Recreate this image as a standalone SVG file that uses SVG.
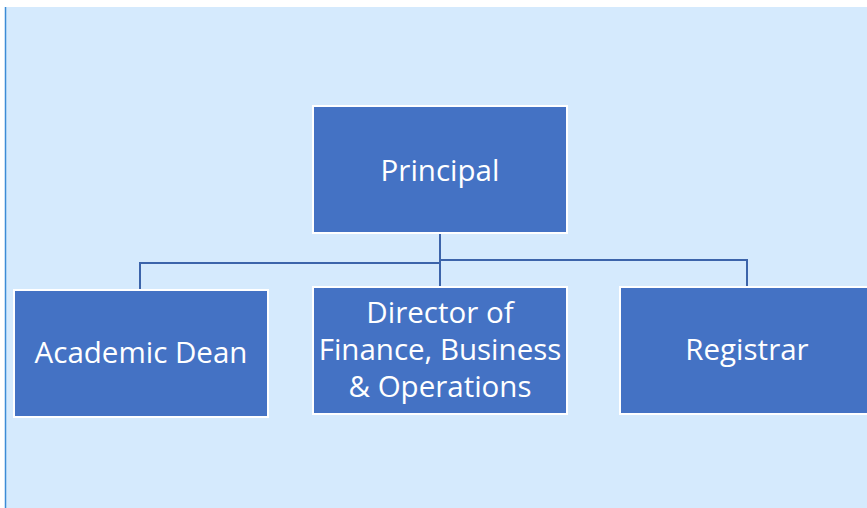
<svg xmlns="http://www.w3.org/2000/svg" width="867" height="508" viewBox="0 0 867 508">
<style>
.box{fill:#4472c4;stroke:#ffffff;stroke-width:2}
.lbl{font-family:"Open Sans","Noto Sans",sans-serif;font-size:29.5px;fill:#ffffff;text-anchor:middle}
.con{fill:none;stroke:#3c64aa;stroke-width:2}
</style>
<rect x="0" y="0" width="867" height="508" fill="#ffffff"/>
<rect x="5" y="7" width="862" height="501" fill="#d5eafd"/>
<line x1="5.5" y1="7" x2="5.5" y2="508" stroke="#3b8bd6" stroke-width="1.5"/>
<g id="connectors">
<path class="con" d="M440 233 V263 H140 V290"/>
<path class="con" d="M440 263 V287"/>
<path class="con" d="M440 260 H747 V287"/>
</g>
<g id="principal">
<rect class="box" x="313" y="106" width="254" height="127"/>
<text class="lbl" x="440" y="181">Principal</text>
</g>
<g id="academic-dean">
<rect class="box" x="14" y="290" width="254" height="127"/>
<text class="lbl" x="141" y="363">Academic Dean</text>
</g>
<g id="director">
<rect class="box" x="313" y="287" width="254" height="127"/>
<text class="lbl" x="440" y="323">Director of</text>
<text class="lbl" x="440" y="360">Finance, Business</text>
<text class="lbl" x="440" y="397">&amp; Operations</text>
</g>
<g id="registrar">
<rect class="box" x="620" y="287" width="254" height="127"/>
<text class="lbl" x="747" y="360">Registrar</text>
</g>
</svg>
